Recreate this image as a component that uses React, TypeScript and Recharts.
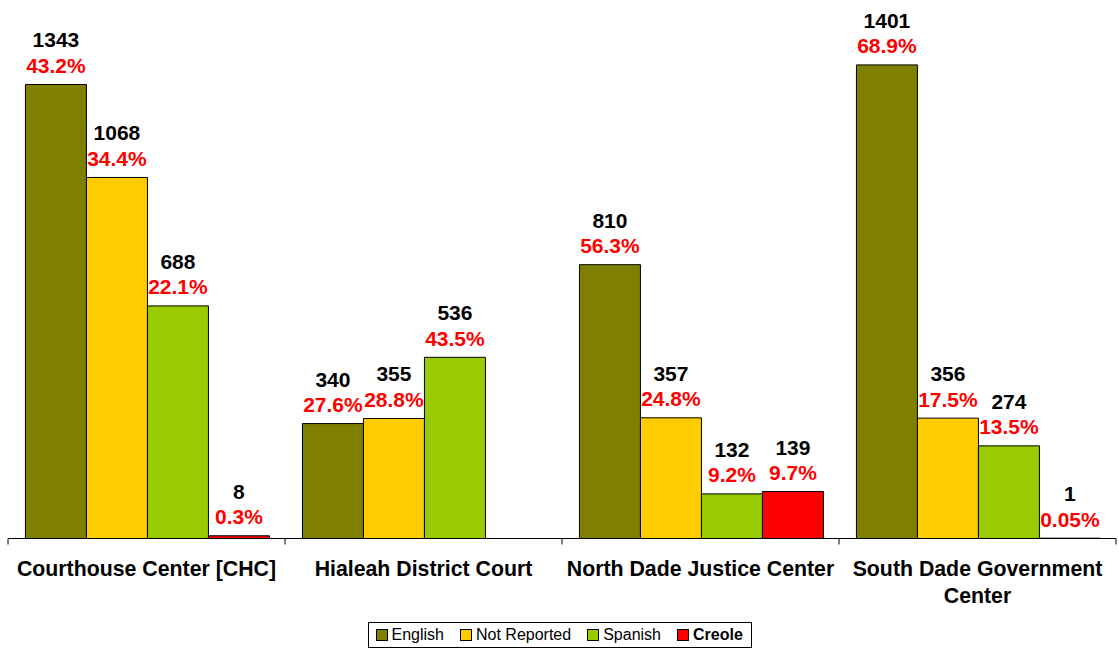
import React from "react";
import { BarChart, Bar, XAxis, YAxis, Legend, LabelList } from "recharts";

const categories = [
  "Courthouse Center [CHC]",
  "Hialeah District Court",
  "North Dade Justice Center",
  "South Dade Government Center",
];
const seriesNames = ["English", "Not Reported", "Spanish", "Creole"];
const englishCounts = [1343, 340, 810, 1401];
const notReportedCounts = [1068, 355, 357, 356];
const spanishCounts = [688, 536, 132, 274];
const creoleCounts: (number | null)[] = [8, null, 139, 1];

const englishPct = ["43.2%", "27.6%", "56.3%", "68.9%"];
const notReportedPct = ["34.4%", "28.8%", "24.8%", "17.5%"];
const spanishPct = ["22.1%", "43.5%", "9.2%", "13.5%"];
const creolePct: (string | null)[] = ["0.3%", null, "9.7%", "0.05%"];

const data = categories.map((c, i) => ({
  name: c,
  english: englishCounts[i],
  englishPct: englishPct[i],
  notReported: notReportedCounts[i],
  notReportedPct: notReportedPct[i],
  spanish: spanishCounts[i],
  spanishPct: spanishPct[i],
  creole: creoleCounts[i],
  creolePct: creolePct[i],
}));

const FONT = "Arial, 'Liberation Sans', sans-serif";
const TICK_FONT_SIZE = 21.3;

let measureCtx: CanvasRenderingContext2D | null = null;
const measure = (s: string) => {
  if (typeof document === "undefined") return s.length * 12;
  if (!measureCtx) {
    const c = document.createElement("canvas");
    measureCtx = c.getContext("2d");
  }
  if (!measureCtx) return s.length * 12;
  measureCtx.font = `bold ${TICK_FONT_SIZE}px ${FONT}`;
  return measureCtx.measureText(s).width;
};

const wrapWords = (text: string, maxWidth: number) => {
  const words = text.split(" ");
  const lines: string[] = [];
  let cur = "";
  for (const w of words) {
    const test = cur ? cur + " " + w : w;
    if (cur && measure(test) > maxWidth) {
      lines.push(cur);
      cur = w;
    } else {
      cur = test;
    }
  }
  if (cur) lines.push(cur);
  return lines;
};

const countLabel = (props: any) => {
  const { x, y, width, value } = props;
  if (value == null) return null;
  const cx = Number(x) + Number(width) / 2;
  return (
    <text x={cx} y={Number(y) - 37} textAnchor="middle" fontFamily={FONT} fontWeight="bold" fontSize={21} fill="#000">
      {value}
    </text>
  );
};

const pctLabel = (props: any) => {
  const { x, y, width, value } = props;
  if (value == null) return null;
  const cx = Number(x) + Number(width) / 2;
  return (
    <text x={cx} y={Number(y) - 11.5} textAnchor="middle" fontFamily={FONT} fontWeight="bold" fontSize={21} fill="#FF0000">
      {value}
    </text>
  );
};

const renderCategoryTick = (props: any) => {
  const { x, y, payload, width, visibleTicksCount, index } = props;
  const half =
    payload && typeof payload.offset === "number" && payload.offset > 0
      ? payload.offset
      : Number(width) / Number(visibleTicksCount) / 2;
  const isLast = index === visibleTicksCount - 1;
  const lines = wrapWords(String(payload.value), 2 * half - 2);
  return (
    <g>
      <line x1={x - half} x2={x - half} y1={y} y2={y + 6} stroke="#000" strokeWidth={1} />
      {isLast ? <line x1={x + half} x2={x + half} y1={y} y2={y + 6} stroke="#000" strokeWidth={1} /> : null}
      <text
        textAnchor="middle"
        fontFamily={FONT}
        fontWeight="bold"
        fontSize={TICK_FONT_SIZE}
        fill="#000"
      >
        {lines.map((l, i) => (
          <tspan key={i} x={x} y={y + 37 + i * 27}>
            {l}
          </tspan>
        ))}
      </text>
    </g>
  );
};

const LegendContent = (props: any) => {
  const payload = [...(props.payload || [])].sort(
    (a: any, b: any) => seriesNames.indexOf(a.value) - seriesNames.indexOf(b.value)
  );
  return (
    <div
      style={{
        margin: "0 auto",
        width: 384,
        height: 26,
        border: "1px solid #000",
        boxSizing: "border-box",
        display: "flex",
        alignItems: "center",
        paddingLeft: 7,
        fontFamily: FONT,
        fontSize: 16,
        color: "#000",
        background: "#fff",
        whiteSpace: "nowrap",
      }}
    >
      {payload.map((p: any) => (
        <div key={p.value} style={{ display: "flex", alignItems: "center", marginRight: 16, whiteSpace: "nowrap" }}>
          <span
            style={{
              display: "inline-block",
              width: 12,
              height: 12,
              background: p.color,
              border: "1px solid #000",
              boxSizing: "border-box",
              marginRight: 4,
            }}
          />
          <span style={{ fontWeight: p.value === "Creole" ? "bold" : "normal" }}>{p.value}</span>
        </div>
      ))}
    </div>
  );
};

export default function App() {
  return (
    <div style={{ position: "absolute", left: 0, top: 0, width: 1119, height: 650, background: "#fff" }}>
      <BarChart
        width={1119}
        height={650}
        data={data}
        margin={{ top: 1, right: 3, left: 8, bottom: 25.5 }}
        barCategoryGap="6.3%"
        barGap={0}
      >
        <YAxis hide domain={[0, 1590]} />
        <XAxis
          dataKey="name"
          height={60}
          axisLine={{ stroke: "#000" }}
          tickLine={false}
          tickSize={0}
          tickMargin={0}
          interval={0}
          tick={renderCategoryTick}
        />
        <Legend
          verticalAlign="bottom"
          content={<LegendContent />}
          wrapperStyle={{ left: 0, width: 1119, bottom: 2 }}
        />
        <Bar dataKey="english" name="English" fill="#808000" stroke="#000" strokeWidth={1} isAnimationActive={false}>
          <LabelList dataKey="english" content={countLabel} />
          <LabelList dataKey="englishPct" content={pctLabel} />
        </Bar>
        <Bar dataKey="notReported" name="Not Reported" fill="#FFCC00" stroke="#000" strokeWidth={1} isAnimationActive={false}>
          <LabelList dataKey="notReported" content={countLabel} />
          <LabelList dataKey="notReportedPct" content={pctLabel} />
        </Bar>
        <Bar dataKey="spanish" name="Spanish" fill="#99CC00" stroke="#000" strokeWidth={1} isAnimationActive={false}>
          <LabelList dataKey="spanish" content={countLabel} />
          <LabelList dataKey="spanishPct" content={pctLabel} />
        </Bar>
        <Bar dataKey="creole" name="Creole" fill="#FF0000" stroke="#000" strokeWidth={1} isAnimationActive={false}>
          <LabelList dataKey="creole" content={countLabel} />
          <LabelList dataKey="creolePct" content={pctLabel} />
        </Bar>
      </BarChart>
    </div>
  );
}
